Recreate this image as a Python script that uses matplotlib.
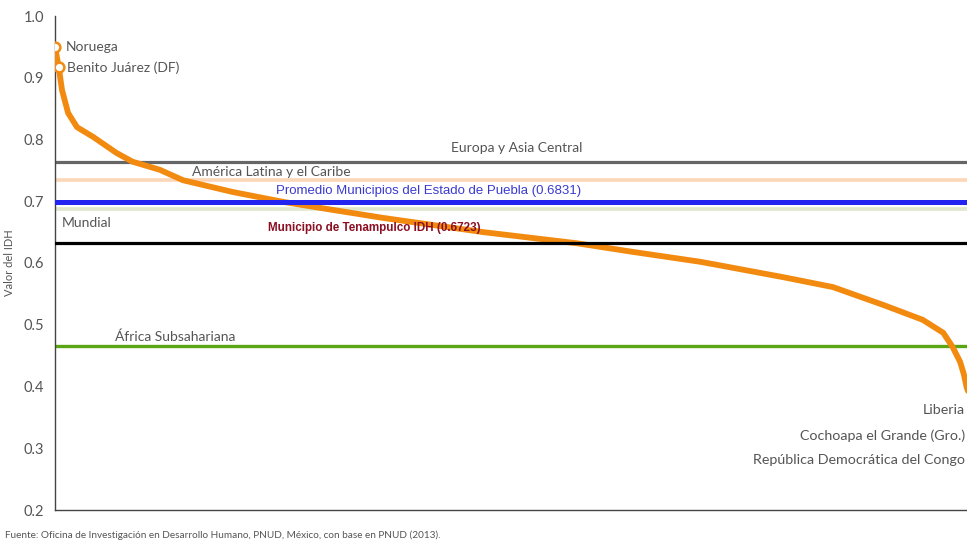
import numpy as np
import matplotlib
matplotlib.use("Agg")
import matplotlib.pyplot as plt

# posicion relativa (0-1) y valor del IDH
posicion = [0.000, 0.004, 0.0075, 0.014, 0.0235, 0.041, 0.066, 0.083, 0.112, 0.137,
            0.190, 0.244, 0.297, 0.351, 0.458, 0.558, 0.618, 0.690, 0.708, 0.779,
            0.832, 0.886, 0.928, 0.950, 0.960, 0.968, 0.972, 0.975, 0.984, 0.995]
idh = [0.950, 0.917, 0.880, 0.843, 0.820, 0.804, 0.778, 0.764, 0.751, 0.734,
       0.715, 0.699, 0.686, 0.673, 0.650, 0.632, 0.618, 0.602, 0.597, 0.577,
       0.561, 0.532, 0.508, 0.487, 0.464, 0.440, 0.420, 0.399, 0.360, 0.330]

# regiones / referencias (valor dibujado)
regiones = ["Europa y Asia Central", "América Latina y el Caribe",
            "Promedio Municipios del Estado de Puebla (0.6831)", "Mundial",
            "Municipio de Tenampulco IDH (0.6723)", "África Subsahariana"]
valores_reg = [0.764, 0.734, 0.699, 0.687, 0.632, 0.466]

marcados = ["Noruega", "Benito Juárez (DF)"]
marcados_val = [0.950, 0.917]
marcados_pos = [0.000, 0.004]

extremos = ["Liberia", "Cochoapa el Grande (Gro.)", "República Democrática del Congo"]
extremos_y = [0.362, 0.321, 0.281]

gris = "#555555"
fig = plt.figure(figsize=(9.67, 5.44), dpi=100)
ax = fig.add_axes([55/967, 34/544, 935/967, 494/544])

ax.axhline(valores_reg[0], color="#666666", lw=2.3, zorder=1)
ax.axhline(valores_reg[1], color="#fbd7b8", lw=2.6, zorder=1)
ax.axhline(valores_reg[3], color="#dfe7cc", lw=2.6, zorder=1)
ax.axhline(valores_reg[5], color="#5aa514", lw=2.4, zorder=1)

ax.plot(posicion, idh, color="#f28a10", lw=4.2, solid_capstyle="round",
        solid_joinstyle="round", zorder=3)
ax.plot(marcados_pos, marcados_val, "o", ms=7, mfc="white", mec="#f28a10", mew=1.8, zorder=5)

ax.axhline(valores_reg[2], color="#2424f0", lw=3.6, zorder=4)
ax.axhline(valores_reg[4], color="black", lw=2.3, zorder=4)

fuente = dict(fontsize=10, color=gris, va="center", family="Lato")
ax.text(0.011, marcados_val[0], marcados[0], **fuente)
ax.text(0.013, marcados_val[1], marcados[1], **fuente)

ax.text(0.494, 0.786, regiones[0], ha="center", **fuente)
ax.text(0.147, 0.748, regiones[1], **fuente)
ax.text(0.236, 0.716, regiones[2], fontsize=9.5, color="#3a3ad0", va="center", family="Liberation Sans")
ax.text(0.007, 0.665, regiones[3], **fuente)
ax.text(0.228, 0.656, regiones[4], fontsize=8.4, color="#8a0f22", va="center",
        family="Liberation Sans", fontweight="bold")
ax.text(0.064, 0.480, regiones[5], **fuente)

for nombre, yv in zip(extremos, extremos_y):
    ax.text(0.973, yv, nombre, ha="right", **dict(fuente, fontsize=10.3))

ax.set_xlim(0, 1)
ax.set_ylim(0.2, 1.0)
ax.set_yticks(np.arange(0.2, 1.01, 0.1))
ax.set_yticklabels([f"{t:.1f}" for t in np.arange(0.2, 1.01, 0.1)], family="Lato")
ax.set_xticks([])
ax.tick_params(axis="y", length=0, pad=8, labelsize=10.5, labelcolor=gris)
ax.set_ylabel("Valor del IDH", fontsize=8, color=gris, family="Lato", labelpad=6)
for s in ["top", "right"]:
    ax.spines[s].set_visible(False)
ax.spines["left"].set_color("#444444")
ax.spines["bottom"].set_color("#444444")
ax.spines["left"].set_linewidth(1.0)
ax.spines["bottom"].set_linewidth(1.0)

fig.text(5/967, 1 - 535/544, "Fuente: Oficina de Investigación en Desarrollo Humano, PNUD, México, con base en PNUD (2013).",
         fontsize=7.2, color="#555555", va="center", family="Lato")

fig.savefig("out.png", dpi=100)
